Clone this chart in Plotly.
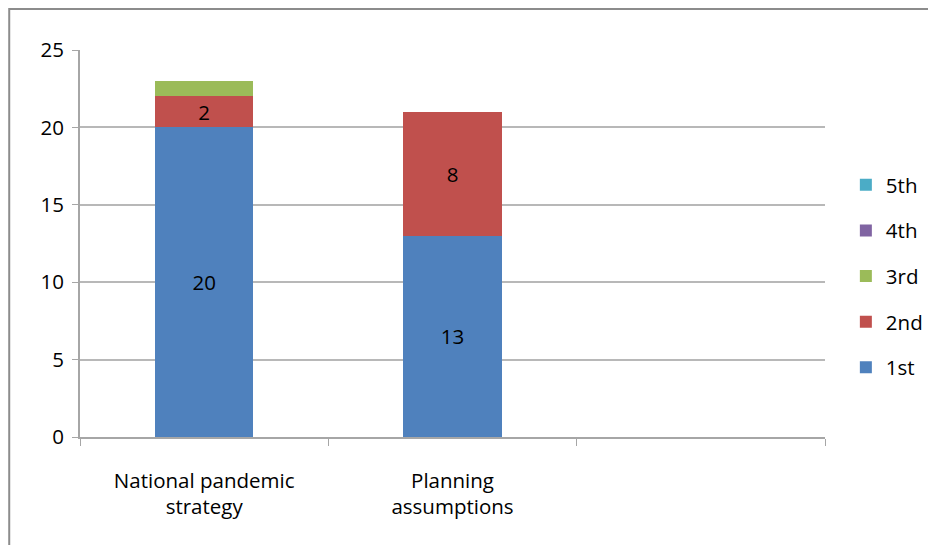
import plotly.graph_objects as go

categories = ["National pandemic<br>strategy", "Planning<br>assumptions", " "]
series_names = ["1st", "2nd", "3rd", "4th", "5th"]
s1 = [20, 13, None]
s2 = [2, 8, None]
s3 = [1, 0, None]
s4 = [0, 0, None]
s5 = [0, 0, None]
show_labels = [True, True, False, False, False]
colors = ["#4F81BD", "#C0504D", "#9BBB59", "#8064A2", "#4BACC6"]
yticks = [0, 5, 10, 15, 20, 25]

FONT = "Open Sans, Lato, sans-serif"
FS = 20.5
fig = go.Figure()
for i, (name, vals, col, lab) in enumerate(zip(series_names, [s1, s2, s3, s4, s5], colors, show_labels)):
    fig.add_trace(go.Bar(
        x=categories, y=vals, name=name, marker=dict(color=col, line=dict(width=0)),
        legendgroup=name, legendrank=10 - i,
        text=[str(v) if (lab and v) else "" for v in vals],
        textposition="inside", insidetextanchor="middle",
        textangle=0, constraintext="none",
        textfont=dict(family=FONT, size=FS, color="black"),
        hoverinfo="x+y+name",
    ))

# page body adds an 8px offset, so the figure is 8px smaller and margins shifted
fig.update_layout(
    barmode="stack", bargap=0.605,
    width=928, height=537,
    margin=dict(l=72, r=111, t=42, b=108, autoexpand=False),
    plot_bgcolor="white", paper_bgcolor="white",
    font=dict(family=FONT, size=FS, color="black"),
    uniformtext=dict(minsize=FS, mode="show"),
    legend=dict(
        x=1.028, xanchor="left", y=0.703, yanchor="top",
        traceorder="grouped", tracegroupgap=16,
        font=dict(family=FONT, size=FS, color="black"),
        bgcolor="rgba(0,0,0,0)",
    ),
    xaxis=dict(
        type="category", tickson="boundaries", ticks="outside", ticklen=7,
        tickcolor="#A6A6A6", showline=True, linecolor="#A6A6A6", linewidth=2,
        showgrid=False, tickfont=dict(family=FONT, size=FS, color="black"),
        ticklabelstandoff=24, automargin=False,
    ),
    yaxis=dict(
        range=[0, 25], tickvals=yticks, ticks="outside", ticklen=6,
        tickcolor="#A6A6A6", showline=True, linecolor="#A6A6A6", linewidth=2,
        showgrid=True, gridcolor="#B8B8B8", gridwidth=1.5, zeroline=False,
        tickfont=dict(family=FONT, size=FS, color="black"), ticklabelstandoff=4,
        automargin=False,
    ),
    shapes=[dict(type="rect", xref="paper", yref="paper",
                 x0=-0.095, x1=1.2, y0=-0.35, y1=1.106,
                 line=dict(color="#8C8C8C", width=2), fillcolor="rgba(0,0,0,0)",
                 layer="below")],
)

fig.write_html("out.html")
